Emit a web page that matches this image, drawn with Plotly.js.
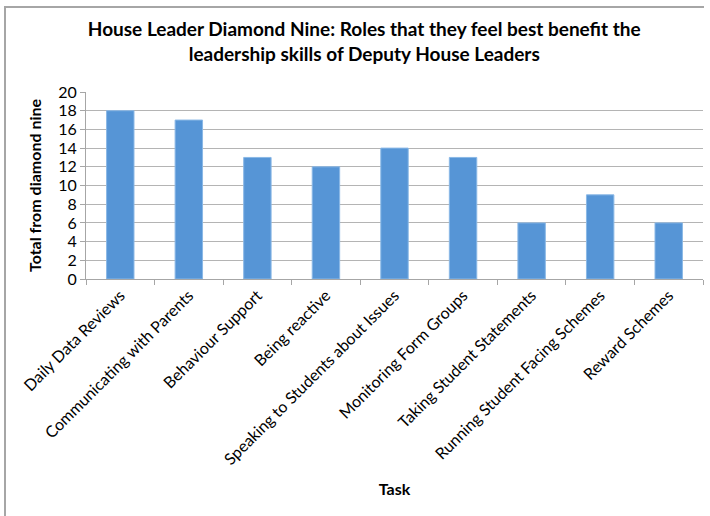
<!DOCTYPE html>
<html>
<head>
<meta charset="utf-8">
<script src="https://cdn.plot.ly/plotly-3.0.1.min.js"></script>
<style>
html,body{margin:0;padding:0;background:#fff;}
#chart{width:710px;height:516px;position:relative;}
#frame{position:absolute;left:4px;top:6px;width:698px;height:520px;border-top:2px solid #a6a6a6;border-left:2px solid #a6a6a6;pointer-events:none;}
</style>
</head>
<body>
<div id="chart"></div>
<div id="frame"></div>
<script>
const categories = [
  "Daily Data Reviews",
  "Communicating with Parents",
  "Behaviour Support",
  "Being reactive",
  "Speaking to Students about Issues",
  "Monitoring Form Groups",
  "Taking Student Statements",
  "Running Student Facing Schemes",
  "Reward Schemes"
];
const totals = [18, 17, 13, 12, 14, 13, 6, 9, 6];
const yTicks = [0, 2, 4, 6, 8, 10, 12, 14, 16, 18, 20];

const fontFam = "Lato, 'Open Sans', sans-serif";

const trace = {
  type: "bar",
  x: categories,
  y: totals,
  marker: {color: "#5695d6", line: {color: "#8ab8e6", width: 1}},
  hoverinfo: "skip"
};

const layout = {
  width: 710,
  height: 516,
  margin: {l: 86, r: 7, t: 92, b: 237},
  paper_bgcolor: "#ffffff",
  plot_bgcolor: "#ffffff",
  bargap: 0.6,
  showlegend: false,
  font: {family: fontFam, color: "#000000"},
  title: {
    text: "<b>House Leader Diamond Nine: Roles that they feel best benefit the<br>leadership skills of Deputy House Leaders</b>",
    font: {family: fontFam, size: 19, color: "#000"},
    x: 0.513, xref: "container", xanchor: "center",
    y: 0.93, yref: "container", yanchor: "top"
  },
  xaxis: {
    type: "category",
    tickangle: -45,
    tickfont: {family: fontFam, size: 16, color: "#000"},
    showline: true, linecolor: "#a6a6a6", linewidth: 1,
    ticks: "outside", ticklen: 5, tickcolor: "#a6a6a6",
    tickson: "boundaries",
    showgrid: false,
    title: {text: "<b>Task</b>", font: {family: fontFam, size: 16, color: "#000"}, standoff: 16}
  },
  yaxis: {
    range: [0, 20],
    tickvals: yTicks,
    ticktext: yTicks.map(String),
    tickfont: {family: fontFam, size: 16, color: "#000"},
    showline: true, linecolor: "#a6a6a6", linewidth: 1,
    ticks: "outside", ticklen: 5, tickcolor: "#a6a6a6",
    showgrid: true, gridcolor: "#b4b4b4", gridwidth: 1,
    zeroline: false,
    title: {text: "<b>Total from diamond nine</b>", font: {family: fontFam, size: 16, color: "#000"}, standoff: 12}
  }
};

Plotly.newPlot("chart", [trace], layout, {staticPlot: true, displayModeBar: false});
</script>
</body>
</html>
